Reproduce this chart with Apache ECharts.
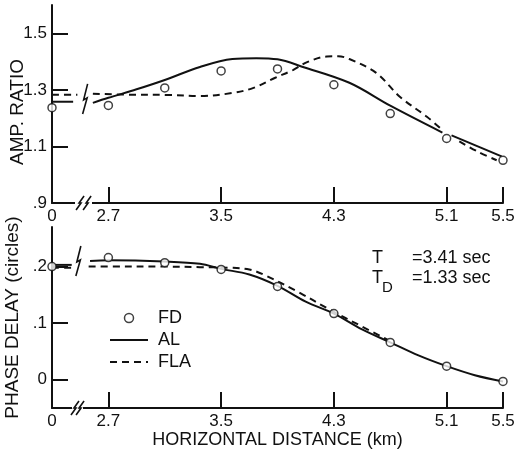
<!DOCTYPE html>
<html><head><meta charset="utf-8">
<script src="https://cdn.jsdelivr.net/npm/echarts@6/dist/echarts.min.js"></script>
<style>html,body{margin:0;padding:0;background:#fff}#c{width:518px;height:461px}</style>
</head><body><div id="c"></div>
<script>
// ---------------- data (distance in km) ----------------
const xTickValues = [2.7, 3.5, 4.3, 5.1, 5.5];
const ampTickValues = [0.9, 1.1, 1.3, 1.5];
const phaseTickValues = [0, 0.1, 0.2];

const fdDist  = [0, 2.7, 3.1, 3.5, 3.9, 4.3, 4.7, 5.1, 5.5];
const fdAmp   = [1.237, 1.245, 1.307, 1.367, 1.374, 1.318, 1.216, 1.128, 1.051];
const fdPhase = [0.200, 0.216, 0.207, 0.195, 0.165, 0.117, 0.066, 0.024, -0.003];

// AL, amplitude ratio
const alAmpNearDist = [0, 0.15];
const alAmpNear     = [1.258, 1.258];
const alAmpDist = [2.59, 2.7, 2.9, 3.1, 3.35, 3.58, 3.75, 3.9, 4.08, 4.41, 4.7, 5.07];
const alAmp     = [1.254, 1.272, 1.302, 1.335, 1.381, 1.409, 1.412, 1.408, 1.381, 1.325, 1.244, 1.149];
const alAmpEndDist = [5.135, 5.49];
const alAmpEnd     = [1.139, 1.065];

// FLA, amplitude ratio
const flaAmpNearDist = [0, 0.18];
const flaAmpNear     = [1.283, 1.283];
const flaAmpDist = [2.59, 2.86, 3.12, 3.35, 3.58, 3.73, 3.88, 4.01, 4.11, 4.25, 4.33, 4.41, 4.6, 4.77, 4.96, 5.065];
const flaAmp     = [1.286, 1.283, 1.282, 1.278, 1.289, 1.307, 1.342, 1.370, 1.398, 1.418, 1.419, 1.409, 1.360, 1.275, 1.205, 1.160];
const flaAmpEndDist = [5.19, 5.32, 5.455];
const flaAmpEnd     = [1.118, 1.082, 1.051];

// AL, phase delay
const alPhaseNearDist = [0, 0.14];
const alPhaseNear     = [0.203, 0.203];
const alPhaseDist = [2.57, 2.7, 3.1, 3.35, 3.5, 3.7, 3.9, 4.1, 4.3, 4.5, 4.7, 4.9, 5.1, 5.3, 5.5];
const alPhase     = [0.210, 0.211, 0.209, 0.205, 0.196, 0.186, 0.166, 0.138, 0.117, 0.089, 0.066, 0.043, 0.024, 0.008, -0.003];

// FLA, phase delay
const flaPhaseNearDist = [0, 0.14];
const flaPhaseNear     = [0.198, 0.198];
const flaPhaseDist = [2.56, 2.7, 3.1, 3.35, 3.56, 3.7, 3.8, 4.04, 4.27, 4.5, 4.68];
const flaPhase     = [0.200, 0.200, 0.200, 0.199, 0.198, 0.195, 0.186, 0.156, 0.124, 0.094, 0.071];

// ---------------- broken x scale ----------------
const X_MIN = 2.3, X_MAX = 5.5;      // position of "0" after the axis break
function pos(d) { return d < 1 ? X_MIN + d : d; }
function pts(ds, vs) { return ds.map((d, i) => [pos(d), vs[i]]); }

const FONT = "'Liberation Sans', Arial, sans-serif";
const BLACK = '#111';

function lineSeries(name, ds, vs, gi, dashed) {
  return {
    type: 'line', name, xAxisIndex: gi, yAxisIndex: gi,
    data: pts(ds, vs), symbol: 'none', smooth: 0.35, z: 3,
    lineStyle: { color: BLACK, width: 2, type: dashed ? [7, 5] : 'solid' },
    itemStyle: { color: BLACK }, silent: true
  };
}
function fdSeries(vs, gi) {
  return {
    type: 'scatter', name: 'FD', xAxisIndex: gi, yAxisIndex: gi,
    data: pts(fdDist, vs), symbol: 'circle', symbolSize: 8, z: 5,
    itemStyle: { color: '#fff', borderColor: BLACK, borderWidth: 1.5 }
  };
}
function fmt(v) {
  if (Math.abs(v) < 1e-9) return '0';
  return v.toFixed(1).replace(/^0\./, '.');
}
function xAxis(gi, withName) {
  const a = {
    type: 'value', gridIndex: gi, min: X_MIN, max: X_MAX,
    axisLine: { show: true, onZero: false, lineStyle: { color: BLACK, width: 2 } },
    axisTick: { show: true, inside: true, length: 16, customValues: xTickValues, lineStyle: { color: BLACK, width: 2 } },
    axisLabel: { customValues: [X_MIN].concat(xTickValues), showMinLabel: true, showMaxLabel: true,
      margin: 5, color: BLACK, fontFamily: FONT, fontSize: 17,
      formatter: v => (v < 2.5 ? '0' : v.toFixed(1)) },
    splitLine: { show: false }
  };
  if (withName) {
    a.name = 'HORIZONTAL DISTANCE (km)';
    a.nameLocation = 'middle';
    a.nameGap = 20;
    a.nameTextStyle = { color: BLACK, fontFamily: FONT, fontSize: 18 };
  }
  return a;
}
function yAxis(gi, min, max, ticks, name) {
  const a = {
    type: 'value', gridIndex: gi, min, max,
    axisLine: { show: true, onZero: false, lineStyle: { color: BLACK, width: 2 } },
    axisTick: { show: true, inside: true, length: 16, customValues: ticks, lineStyle: { color: BLACK, width: 2 } },
    axisLabel: { customValues: ticks, showMinLabel: true, showMaxLabel: true, margin: 5,
      color: BLACK, fontFamily: FONT, fontSize: 17, formatter: fmt },
    splitLine: { show: false }
  };
  if (name) {
    a.name = name; a.nameLocation = 'middle'; a.nameGap = 19;
    a.nameTextStyle = { color: BLACK, fontFamily: FONT, fontSize: 19 };
  }
  return a;
}

const chart = echarts.init(document.getElementById('c'), null, { renderer: 'canvas' });
chart.setOption({
  animation: false,
  backgroundColor: '#fff',
  grid: [
    { left: 52, right: 15, top: 5, height: 198, containLabel: false, outerBoundsMode: 'none' },
    { left: 52, right: 15, top: 227, height: 181, containLabel: false, outerBoundsMode: 'none' }
  ],
  xAxis: [xAxis(0, false), xAxis(1, true)],
  yAxis: [
    yAxis(0, 0.9, 1.6, ampTickValues, null),
    yAxis(1, -0.05, 0.27, phaseTickValues, 'PHASE DELAY (circles)')
  ],
  legend: {
    orient: 'vertical', left: 109, top: 308, itemWidth: 38, itemHeight: 9, itemGap: 2,
    padding: 0, selectedMode: false,
    textStyle: { color: BLACK, fontFamily: FONT, fontSize: 18, lineHeight: 20, padding: [0, 0, 0, 5] },
    data: [
      { name: 'FD', icon: 'circle', itemStyle: { color: '#fff', borderColor: BLACK, borderWidth: 1.5 } },
      { name: 'AL', itemStyle: { opacity: 0 } },
      { name: 'FLA', itemStyle: { opacity: 0 } }
    ]
  },
  series: [
    lineSeries('AL', alAmpNearDist, alAmpNear, 0, false),
    lineSeries('AL', alAmpDist, alAmp, 0, false),
    lineSeries('AL', alAmpEndDist, alAmpEnd, 0, false),
    lineSeries('FLA', flaAmpNearDist, flaAmpNear, 0, true),
    lineSeries('FLA', flaAmpDist, flaAmp, 0, true),
    lineSeries('FLA', flaAmpEndDist, flaAmpEnd, 0, true),
    fdSeries(fdAmp, 0),
    lineSeries('AL', alPhaseNearDist, alPhaseNear, 1, false),
    lineSeries('AL', alPhaseDist, alPhase, 1, false),
    lineSeries('FLA', flaPhaseNearDist, flaPhaseNear, 1, true),
    lineSeries('FLA', flaPhaseDist, flaPhase, 1, true),
    fdSeries(fdPhase, 1)
  ]
});

// ---------------- break marks, axis title and annotation ----------------
function P(gi, p, v) { return chart.convertToPixel({ gridIndex: gi }, [p, v]); }
function gapRect(gi, p1, p2, v) {
  const a = P(gi, p1, v), b = P(gi, p2, v);
  return { type: 'rect', shape: { x: a[0], y: a[1] - 3, width: b[0] - a[0], height: 6 },
    style: { fill: '#fff' }, z: 50 };
}
function axisZig(gi, p, v) {
  const c = P(gi, p, v);
  const x = c[0], y = c[1];
  return { type: 'polyline', shape: { points: [[x - 4, y + 7], [x + 1, y], [x - 1, y], [x + 4, y - 7]] },
    style: { stroke: BLACK, lineWidth: 1.6, fill: null }, z: 51 };
}
function curveZig(gi, p, v, h) {
  const c = P(gi, p, v);
  const x = c[0], y = c[1];
  return { type: 'polyline', shape: { points: [[x + 2.5, y - h], [x - 1.5, y + 1], [x + 2, y - 1], [x - 2.5, y + h]] },
    style: { stroke: BLACK, lineWidth: 1.6, fill: null }, z: 51 };
}
const txt = (l, t, s, fs) => ({ type: 'text', left: l, top: t, z: 60,
  style: { text: s, fill: BLACK, font: fs + 'px ' + FONT } });

chart.setOption({
  graphic: [
    gapRect(0, 2.463, 2.584, 0.9), axisZig(0, 2.499, 0.9), axisZig(0, 2.549, 0.9),
    gapRect(1, 2.442, 2.52, -0.05), axisZig(1, 2.463, -0.05), axisZig(1, 2.499, -0.05),
    curveZig(0, 2.535, 1.268, 15),
    curveZig(1, 2.487, 0.21, 15),
    { type: 'text', x: 18, y: 112, rotation: Math.PI / 2, z: 60,
      style: { text: 'AMP. RATIO', fill: BLACK, font: '19px ' + FONT, align: 'center', verticalAlign: 'middle' } },
    txt(372, 249, 'T', 18), txt(412, 249, '=3.41 sec', 18),
    txt(372, 269, 'T', 18), txt(382, 280, 'D', 15), txt(412, 269, '=1.33 sec', 18)
  ]
});
</script>
</body></html>
